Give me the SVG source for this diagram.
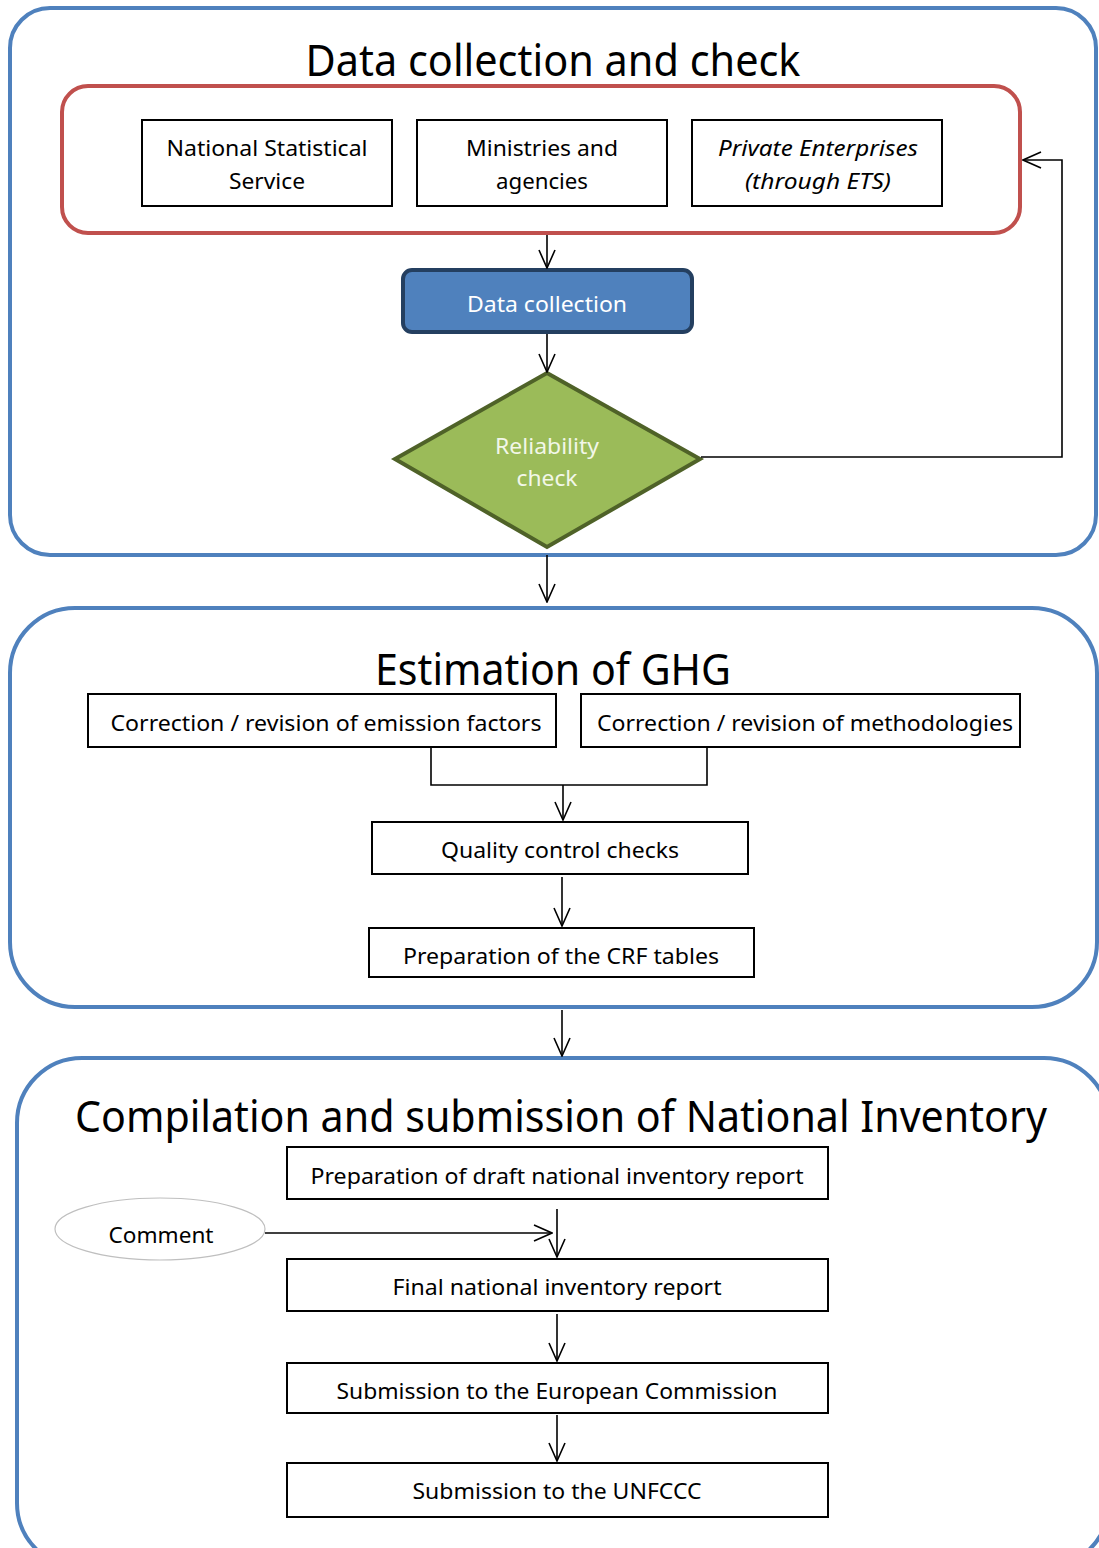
<svg xmlns="http://www.w3.org/2000/svg" width="1099" height="1548" viewBox="0 0 1099 1548">
<style>
text{font-family:"Noto Sans","Open Sans","Liberation Sans",sans-serif;text-anchor:middle;fill:#000}
.t{font-size:43px}
.n{font-size:22px}
.stage{fill:#fff;stroke:#4F81BD;stroke-width:4}
.box{fill:#fff;stroke:#000;stroke-width:2}
.c{fill:none;stroke:#000;stroke-width:1.6}
</style>
<defs>
<marker id="a" viewBox="0 0 20 18" refX="19" refY="9" markerWidth="20" markerHeight="18" markerUnits="userSpaceOnUse" orient="auto">
<path d="M1,1 L19,9 L1,17" fill="none" stroke="#000" stroke-width="1.6"/>
</marker>
</defs>
<g id="stage1">
<rect class="stage" x="10" y="8" width="1086" height="547" rx="40"/>
<text class="t" x="553" y="76" textLength="495" lengthAdjust="spacingAndGlyphs">Data collection and check</text>
</g>
<g id="sources">
<rect x="62" y="86" width="958" height="147" rx="26" fill="#fff" stroke="#C0504D" stroke-width="4"/>
</g>
<g id="nss">
<rect class="box" x="142" y="120" width="250" height="86"/>
<text class="n" x="267" y="156" textLength="201" lengthAdjust="spacingAndGlyphs">National Statistical</text>
<text class="n" x="267" y="189" textLength="76" lengthAdjust="spacingAndGlyphs">Service</text>
</g>
<g id="ministries">
<rect class="box" x="417" y="120" width="250" height="86"/>
<text class="n" x="542" y="156" textLength="152" lengthAdjust="spacingAndGlyphs">Ministries and</text>
<text class="n" x="542" y="189" textLength="92" lengthAdjust="spacingAndGlyphs">agencies</text>
</g>
<g id="private">
<rect class="box" x="692" y="120" width="250" height="86"/>
<text class="n" x="818" y="156" font-style="italic" textLength="200" lengthAdjust="spacingAndGlyphs">Private Enterprises</text>
<text class="n" x="818" y="189" font-style="italic" textLength="146" lengthAdjust="spacingAndGlyphs">(through ETS)</text>
</g>
<g id="datacollection">
<rect x="403" y="270" width="289" height="62" rx="9" fill="#4F81BD" stroke="#243F60" stroke-width="4"/>
<text class="n" x="547" y="312" style="fill:#fff" textLength="160" lengthAdjust="spacingAndGlyphs">Data collection</text>
</g>
<g id="reliability">
<polygon points="547,373 700,459 547,547 395,459" fill="#9BBB59" stroke="#4F6228" stroke-width="4"/>
<text class="n" x="547" y="454" style="fill:#F2F7E8" textLength="104" lengthAdjust="spacingAndGlyphs">Reliability</text>
<text class="n" x="547" y="486" style="fill:#F2F7E8" textLength="61" lengthAdjust="spacingAndGlyphs">check</text>
</g>
<g id="stage2">
<rect class="stage" x="10" y="608" width="1087" height="399" rx="65"/>
<text class="t" x="553" y="685" textLength="356" lengthAdjust="spacingAndGlyphs">Estimation of GHG</text>
</g>
<g id="ef">
<rect class="box" x="88" y="694" width="468" height="53"/>
<text class="n" x="326" y="731" textLength="431" lengthAdjust="spacingAndGlyphs">Correction / revision of emission factors</text>
</g>
<g id="meth">
<rect class="box" x="581" y="694" width="439" height="53"/>
<text class="n" x="805" y="731" textLength="416" lengthAdjust="spacingAndGlyphs">Correction / revision of methodologies</text>
</g>
<g id="qc">
<rect class="box" x="372" y="822" width="376" height="52"/>
<text class="n" x="560" y="858" textLength="238" lengthAdjust="spacingAndGlyphs">Quality control checks</text>
</g>
<g id="crf">
<rect class="box" x="369" y="928" width="385" height="49"/>
<text class="n" x="561" y="964" textLength="316" lengthAdjust="spacingAndGlyphs">Preparation of the CRF tables</text>
</g>
<g id="stage3">
<rect class="stage" x="17" y="1058" width="1092" height="510" rx="65"/>
<text class="t" x="561" y="1132" textLength="972" lengthAdjust="spacingAndGlyphs">Compilation and submission of National Inventory</text>
</g>
<g id="draft">
<rect class="box" x="287" y="1147" width="541" height="52"/>
<text class="n" x="557" y="1184" textLength="493" lengthAdjust="spacingAndGlyphs">Preparation of draft national inventory report</text>
</g>
<g id="comment">
<ellipse cx="160" cy="1229" rx="105" ry="31" fill="#fff" stroke="#BFBFBF" stroke-width="1.2"/>
<text class="n" x="161" y="1243" textLength="105" lengthAdjust="spacingAndGlyphs">Comment</text>
</g>
<g id="final">
<rect class="box" x="287" y="1259" width="541" height="52"/>
<text class="n" x="557" y="1295" textLength="329" lengthAdjust="spacingAndGlyphs">Final national inventory report</text>
</g>
<g id="ec">
<rect class="box" x="287" y="1363" width="541" height="50"/>
<text class="n" x="557" y="1399" textLength="441" lengthAdjust="spacingAndGlyphs">Submission to the European Commission</text>
</g>
<g id="unfccc">
<rect class="box" x="287" y="1463" width="541" height="54"/>
<text class="n" x="557" y="1499" textLength="289" lengthAdjust="spacingAndGlyphs">Submission to the UNFCCC</text>
</g>
<g id="connectors">
<line class="c" x1="547" y1="235" x2="547" y2="268" marker-end="url(#a)"/>
<line class="c" x1="547" y1="334" x2="547" y2="372" marker-end="url(#a)"/>
<polyline class="c" points="701,457 1062,457 1062,160 1023,160" marker-end="url(#a)"/>
<line class="c" x1="547" y1="555" x2="547" y2="602" marker-end="url(#a)"/>
<polyline class="c" points="431,747 431,785 707,785 707,747"/>
<line class="c" x1="563" y1="785" x2="563" y2="820" marker-end="url(#a)"/>
<line class="c" x1="562" y1="877" x2="562" y2="926" marker-end="url(#a)"/>
<line class="c" x1="562" y1="1010" x2="562" y2="1056" marker-end="url(#a)"/>
<line class="c" x1="265" y1="1233" x2="552" y2="1233" marker-end="url(#a)"/>
<line class="c" x1="557" y1="1209" x2="557" y2="1257" marker-end="url(#a)"/>
<line class="c" x1="557" y1="1314" x2="557" y2="1361" marker-end="url(#a)"/>
<line class="c" x1="557" y1="1415" x2="557" y2="1461" marker-end="url(#a)"/>
</g>
</svg>
